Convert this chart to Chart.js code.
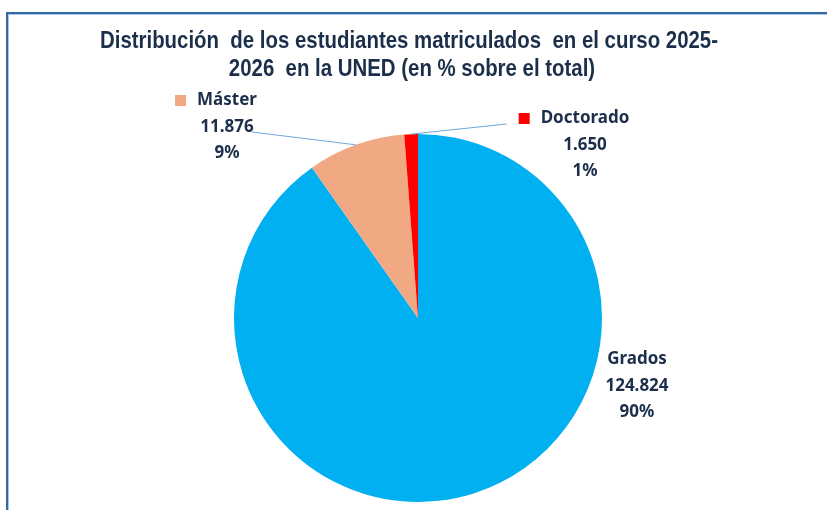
<!doctype html>
<html>
	<head>
		<meta charset="utf-8" />
		<title>Distribución de estudiantes UNED</title>
		<script src="https://cdn.jsdelivr.net/npm/chart.js@4.4.1/dist/chart.umd.min.js"></script>
		<style>
			html,
			body {
				margin: 0;
				padding: 0;
				background: #fff;
				overflow: hidden;
			}

			#wrap {
				position: relative;
				width: 827px;
				height: 510px;
			}

			#frame {
				position: absolute;
				left: 6px;
				top: 12px;
				width: 900px;
				height: 600px;
				border: 2px solid #3567a0;
				box-shadow: inset 1px 1px 0 #a9c6e6;
			}

			canvas {
				position: absolute;
				left: 0;
				top: 0;
			}
		</style>
	</head>

	<body>
		<div id="wrap">
			<div id="frame"></div>
			<canvas id="chartJSContainer" width="827" height="510"></canvas>
		</div>

		<script>
			// data
			const categories = ["Grados", "Máster", "Doctorado"];
			const students = [124824, 11876, 1650];
			const percentLabels = ["90%", "9%", "1%"];
			const sliceColors = ["#00b0f0", "#f1a983", "#ff0000"];
			const titleLines = [
				"Distribución  de los estudiantes matriculados  en el curso 2025-",
				"2026  en la UNED (en % sobre el total)",
			];

			// label placement, relative to the pie centre (px)
			const labelSpots = [
				{ dx: 219, dy: 41, marker: false, leader: false },
				{ dx: -191, dy: -218, marker: true, leader: true },
				{ dx: 167, dy: -200, marker: true, leader: true },
			];

			const textColor = "#1b2f4b";
			const labelFont = "bold 17px 'Noto Sans', sans-serif";

			function formatNumber(n) {
				return n.toString().replace(/\B(?=(\d{3})+(?!\d))/g, ".");
			}

			// the original title uses a narrow face; squeeze a normal one sideways
			const titlePlugin = {
				id: "titleText",
				afterDraw(chart) {
					const ctx = chart.ctx;
					ctx.save();
					ctx.fillStyle = textColor;
					ctx.font = "bold 24px 'Liberation Sans', Arial, sans-serif";
					const squeeze = 618 / ctx.measureText(titleLines[0]).width;
					ctx.textAlign = "center";
					ctx.textBaseline = "middle";
					ctx.scale(squeeze, 1);
					ctx.fillText(titleLines[0], 409 / squeeze, 41);
					ctx.fillText(titleLines[1], 412 / squeeze, 69);
					ctx.restore();
				},
			};

			const outsideLabels = {
				id: "outsideLabels",
				afterDatasetsDraw(chart) {
					const ctx = chart.ctx;
					const meta = chart.getDatasetMeta(0);
					const first = meta.data[0];
					const cx = first.x,
						cy = first.y;
					ctx.save();
					ctx.font = labelFont;
					ctx.textAlign = "center";
					ctx.textBaseline = "middle";

					meta.data.forEach((arc, i) => {
						const spot = labelSpots[i];
						const lx = cx + spot.dx;
						const ly = cy + spot.dy;
						const lines = [
							categories[i],
							formatNumber(students[i]),
							percentLabels[i],
						];
						const gaps = [0, 27, 53];

						if (spot.leader) {
							const mid = (arc.startAngle + arc.endAngle) / 2;
							const ex = cx + Math.cos(mid) * arc.outerRadius;
							const ey = cy + Math.sin(mid) * arc.outerRadius;
							let sx, sy;
							if (i === 1) {
								const w = ctx.measureText(lines[1]).width;
								sx = lx + w / 2 - 2;
								sy = ly + 32;
							} else {
								const w = ctx.measureText(lines[0]).width;
								sx = lx - w / 2 - 34;
								sy = ly + 6;
							}
							ctx.strokeStyle = "#6fa8dc";
							ctx.lineWidth = 1;
							ctx.beginPath();
							ctx.moveTo(sx, sy);
							ctx.lineTo(ex, ey);
							ctx.stroke();
						}

						if (spot.marker) {
							const w = ctx.measureText(lines[0]).width;
							ctx.fillStyle = sliceColors[i];
							ctx.fillRect(lx - w / 2 - 22, ly - 5, 11, 11);
						}

						ctx.fillStyle = textColor;
						lines.forEach((t, k) => ctx.fillText(t, lx, ly + gaps[k]));
					});
					ctx.restore();
				},
			};

			const ctx = document.getElementById("chartJSContainer").getContext("2d");
			window.testedChart = new Chart(ctx, {
				type: "pie",
				data: {
					labels: categories,
					datasets: [
						{
							data: students,
							backgroundColor: sliceColors,
							borderWidth: 0,
						},
					],
				},
				options: {
					responsive: false,
					animation: false,
					layout: {
						padding: { top: 134, bottom: 8, left: 200, right: 191 },
					},
					plugins: {
						legend: { display: false },
						tooltip: { enabled: false },
						title: { display: false },
					},
				},
				plugins: [titlePlugin, outsideLabels],
			});
		</script>
	</body>
</html>
